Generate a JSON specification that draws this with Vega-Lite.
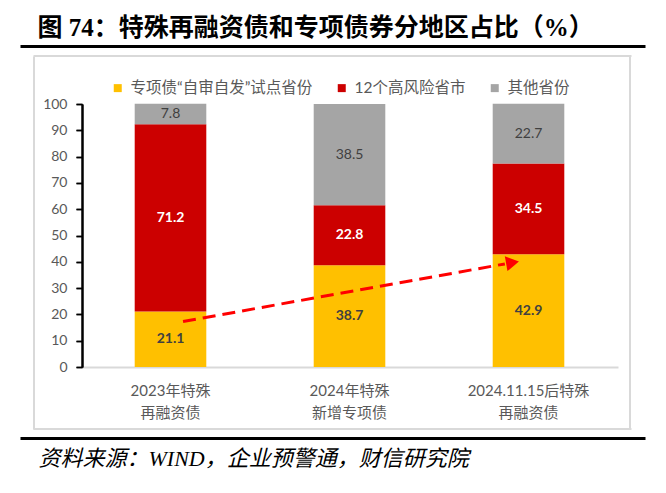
{
  "$schema": "https://vega.github.io/schema/vega-lite/v6.json",
  "autosize": "none",
  "padding": {"left": 82, "top": 104, "right": 48, "bottom": 126},
  "width": 536,
  "height": 263,
  "background": "#FFFFFF",
  "config": {
    "view": {"stroke": null},
    "axis": {"grid": false}
  },
  "datasets": {
    "shares": [
      {"cat": "2023年特殊 再融资债", "series": "专项债“自审自发”试点省份", "idx": 1, "value": 21.1},
      {"cat": "2023年特殊 再融资债", "series": "12个高风险省市", "idx": 2, "value": 71.2},
      {"cat": "2023年特殊 再融资债", "series": "其他省份", "idx": 3, "value": 7.8},
      {"cat": "2024年特殊 新增专项债", "series": "专项债“自审自发”试点省份", "idx": 1, "value": 38.7},
      {"cat": "2024年特殊 新增专项债", "series": "12个高风险省市", "idx": 2, "value": 22.8},
      {"cat": "2024年特殊 新增专项债", "series": "其他省份", "idx": 3, "value": 38.5},
      {"cat": "2024.11.15后特殊 再融资债", "series": "专项债“自审自发”试点省份", "idx": 1, "value": 42.9},
      {"cat": "2024.11.15后特殊 再融资债", "series": "12个高风险省市", "idx": 2, "value": 34.5},
      {"cat": "2024.11.15后特殊 再融资债", "series": "其他省份", "idx": 3, "value": 22.7}
    ],
    "trend": [
      {"from": "2023年特殊 再融资债", "to": "2024.11.15后特殊 再融资债", "y1": 17.3, "y2": 39.2, "yh": 39.7}
    ]
  },
  "resolve": {
    "scale": {"x": "independent", "y": "independent"},
    "axis": {"x": "independent", "y": "independent"}
  },
  "layer": [
    {
      "layer": [
        {
          "data": {"name": "shares"},
          "mark": {"type": "bar"},
          "encoding": {
            "x": {
              "field": "cat", "type": "nominal", "title": null,
              "scale": {"type": "band", "domain": ["2023年特殊 再融资债", "2024年特殊 新增专项债", "2024.11.15后特殊 再融资债"], "range": [-1, 536], "paddingInner": 0.6, "paddingOuter": 0.3},
              "axis": {
                "orient": "bottom", "domain": true, "domainColor": "#D9D9D9", "domainWidth": 2,
                "ticks": false, "tickSize": 0, "labelPadding": 16, "labelBaseline": "top",
                "labelExpr": "split(datum.label, ' ')", "labelLineHeight": 22,
                "labelFont": "Lato, Noto Sans CJK SC", "labelFontSize": 15, "labelColor": "#595959", "labelAngle": 0
              }
            },
            "y": {
              "field": "value", "type": "quantitative", "title": null, "stack": "zero",
              "scale": {"domain": [0, 100], "nice": false, "zero": true}, "axis": null
            },
            "order": {"field": "idx", "type": "quantitative"},
            "color": {
              "field": "series", "type": "nominal",
              "scale": {"domain": ["专项债“自审自发”试点省份", "12个高风险省市", "其他省份"], "range": ["#FFC000", "#CC0000", "#A5A5A5"]},
              "legend": {
                "orient": "none", "legendX": 28, "legendY": -24, "direction": "horizontal", "title": null,
                "symbolType": "square", "symbolSize": 64, "symbolStrokeWidth": 0,
                "labelFont": "Lato, Noto Sans CJK SC", "labelFontSize": 15.5, "labelColor": "#595959",
                "labelLimit": 400, "labelOffset": 5, "columnPadding": 21
              }
            }
          }
        },
        {
          "data": {"name": "shares"},
          "mark": {"type": "text", "font": "Lato, Noto Sans CJK SC", "fontSize": 14, "fontWeight": "bold"},
          "encoding": {
            "x": {
              "field": "cat", "type": "nominal", "title": null,
              "scale": {"type": "band", "domain": ["2023年特殊 再融资债", "2024年特殊 新增专项债", "2024.11.15后特殊 再融资债"], "range": [-1, 536], "paddingInner": 0.6, "paddingOuter": 0.3}
            },
            "y": {
              "field": "value", "type": "quantitative", "title": null, "stack": "zero", "bandPosition": 0.5,
              "scale": {"domain": [0, 100], "nice": false, "zero": true}, "axis": null
            },
            "detail": {"field": "series", "type": "nominal"},
            "order": {"field": "idx", "type": "quantitative"},
            "text": {"field": "value", "type": "quantitative", "format": ".1f"},
            "color": {"condition": {"test": "datum.series === '12个高风险省市'", "value": "#FFFFFF"}, "value": "#404040"},
            "opacity": {"condition": {"test": "datum.series === '其他省份'", "value": 0}, "value": 1}
          }
        },
        {
          "data": {"name": "shares"},
          "mark": {"type": "text", "font": "Lato, Noto Sans CJK SC", "fontSize": 14, "fontWeight": "normal"},
          "encoding": {
            "x": {
              "field": "cat", "type": "nominal", "title": null,
              "scale": {"type": "band", "domain": ["2023年特殊 再融资债", "2024年特殊 新增专项债", "2024.11.15后特殊 再融资债"], "range": [-1, 536], "paddingInner": 0.6, "paddingOuter": 0.3}
            },
            "y": {
              "field": "value", "type": "quantitative", "title": null, "stack": "zero", "bandPosition": 0.5,
              "scale": {"domain": [0, 100], "nice": false, "zero": true}, "axis": null
            },
            "detail": {"field": "series", "type": "nominal"},
            "order": {"field": "idx", "type": "quantitative"},
            "text": {"field": "value", "type": "quantitative", "format": ".1f"},
            "color": {"value": "#404040"},
            "opacity": {"condition": {"test": "datum.series === '其他省份'", "value": 1}, "value": 0}
          }
        },
        {
          "data": {"name": "trend"},
          "mark": {"type": "rule", "color": "#FF0000", "strokeWidth": 3, "strokeDash": [13, 7]},
          "encoding": {
            "x": {
              "field": "from", "type": "nominal", "title": null, "bandPosition": 0.675,
              "scale": {"type": "band", "domain": ["2023年特殊 再融资债", "2024年特殊 新增专项债", "2024.11.15后特殊 再融资债"], "range": [-1, 536], "paddingInner": 0.6, "paddingOuter": 0.3}
            },
            "x2": {"field": "to", "bandPosition": 0.17},
            "y": {
              "field": "y1", "type": "quantitative", "title": null,
              "scale": {"domain": [0, 100], "nice": false, "zero": true}, "axis": null
            },
            "y2": {"field": "y2"}
          }
        },
        {
          "data": {"name": "trend"},
          "mark": {"type": "point", "shape": "triangle-right", "filled": true, "color": "#FF0000", "size": 225, "angle": 350, "opacity": 1},
          "encoding": {
            "x": {
              "field": "to", "type": "nominal", "title": null, "bandPosition": 0.277,
              "scale": {"type": "band", "domain": ["2023年特殊 再融资债", "2024年特殊 新增专项债", "2024.11.15后特殊 再融资债"], "range": [-1, 536], "paddingInner": 0.6, "paddingOuter": 0.3}
            },
            "y": {
              "field": "yh", "type": "quantitative", "title": null,
              "scale": {"domain": [0, 100], "nice": false, "zero": true}, "axis": null
            }
          }
        }
      ]
    },
    {
      "data": {"name": "trend"},
      "mark": {"type": "rule", "opacity": 0},
      "encoding": {
        "y": {
          "datum": 0, "type": "quantitative",
          "scale": {"domain": [0, 100], "nice": false, "zero": false},
          "axis": {
            "orient": "left", "values": [0, 10, 20, 30, 40, 50, 60, 70, 80, 90, 100], "grid": false, "title": null,
            "domain": true, "domainColor": "#000000", "domainWidth": 2,
            "ticks": true, "tickColor": "#000000", "tickWidth": 1.5, "tickSize": 6,
            "labels": true, "labelPadding": 9, "labelFont": "Lato, Noto Sans CJK SC", "labelFontSize": 14, "labelColor": "#595959"
          }
        }
      }
    },
    {
      "data": {"name": "trend"},
      "mark": {"type": "rule", "opacity": 0},
      "encoding": {
        "y": {
          "datum": 0, "type": "quantitative",
          "scale": {"domain": [0, 100], "nice": false, "zero": false},
          "axis": {"orient": "left", "offset": 0, "domainColor": "#000000", "domainWidth": 2, "ticks": false, "labels": false, "grid": false, "title": null}
        }
      }
    },
    {
      "data": {"name": "trend"},
      "mark": {"type": "rule", "opacity": 0},
      "encoding": {
        "y": {
          "datum": 0, "type": "quantitative",
          "scale": {"domain": [0, 100], "nice": false, "zero": false},
          "axis": {"orient": "left", "offset": 0, "values": [0, 10, 20, 30, 40, 50, 60, 70, 80, 90, 100], "domain": false, "ticks": true, "tickColor": "#000000", "tickWidth": 1.5, "tickSize": 6, "labels": false, "grid": false, "title": null}
        }
      }
    },
    {
      "data": {"name": "trend"},
      "mark": {"type": "rule", "opacity": 0},
      "encoding": {
        "x": {
          "datum": 0, "type": "quantitative",
          "scale": {"domain": [0, 1], "range": [-62, 563], "nice": false, "zero": false},
          "axis": {
            "orient": "top", "offset": 58, "domainColor": "#000000", "domainWidth": 3,
            "ticks": false, "labels": false, "grid": false,
            "title": "图 74：特殊再融资债和专项债券分地区占比（%）",
            "titleX": -45, "titleY": -11, "titleAlign": "left", "titleBaseline": "alphabetic", "titleAngle": 0,
            "titleFont": "Liberation Serif, Noto Sans CJK SC", "titleFontSize": 25, "titleFontWeight": "bold", "titleColor": "#000000"
          }
        }
      }
    },
    {
      "data": {"name": "trend"},
      "mark": {"type": "rule", "opacity": 0},
      "encoding": {
        "x": {
          "datum": 0, "type": "quantitative",
          "scale": {"domain": [0, 1], "range": [-62, 563], "nice": false, "zero": false},
          "axis": {
            "orient": "bottom", "offset": 71, "domainColor": "#000000", "domainWidth": 3,
            "ticks": false, "labels": false, "grid": false,
            "title": "资料来源：WIND，企业预警通，财信研究院",
            "titleX": -44, "titleY": 27.5, "titleAlign": "left", "titleBaseline": "alphabetic", "titleAngle": 0,
            "titleFont": "Liberation Serif, Noto Sans CJK SC", "titleFontSize": 22, "titleFontStyle": "italic", "titleFontWeight": "normal", "titleColor": "#000000"
          }
        }
      }
    },
    {
      "data": {"name": "trend"},
      "mark": {"type": "rule", "opacity": 0},
      "encoding": {
        "x": {
          "datum": 0, "type": "quantitative",
          "scale": {"domain": [0, 1], "range": [-49, 549], "nice": false, "zero": false},
          "axis": {"orient": "top", "offset": 48.5, "domainColor": "#D9D9D9", "domainWidth": 2, "ticks": false, "labels": false, "grid": false, "title": null}
        }
      }
    },
    {
      "data": {"name": "trend"},
      "mark": {"type": "rule", "opacity": 0},
      "encoding": {
        "x": {
          "datum": 0, "type": "quantitative",
          "scale": {"domain": [0, 1], "range": [-49, 549], "nice": false, "zero": false},
          "axis": {"orient": "bottom", "offset": 61.5, "domainColor": "#D9D9D9", "domainWidth": 2, "ticks": false, "labels": false, "grid": false, "title": null}
        }
      }
    },
    {
      "data": {"name": "trend"},
      "mark": {"type": "rule", "opacity": 0},
      "encoding": {
        "y": {
          "datum": 0, "type": "quantitative",
          "scale": {"domain": [0, 1], "range": [325, -48], "nice": false, "zero": false},
          "axis": {"orient": "left", "offset": 48.5, "domainColor": "#D9D9D9", "domainWidth": 2, "ticks": false, "labels": false, "grid": false, "title": null}
        }
      }
    },
    {
      "data": {"name": "trend"},
      "mark": {"type": "rule", "opacity": 0},
      "encoding": {
        "y": {
          "datum": 0, "type": "quantitative",
          "scale": {"domain": [0, 1], "range": [325, -48], "nice": false, "zero": false},
          "axis": {"orient": "right", "offset": 11.5, "domainColor": "#D9D9D9", "domainWidth": 2, "ticks": false, "labels": false, "grid": false, "title": null}
        }
      }
    }
  ]
}
